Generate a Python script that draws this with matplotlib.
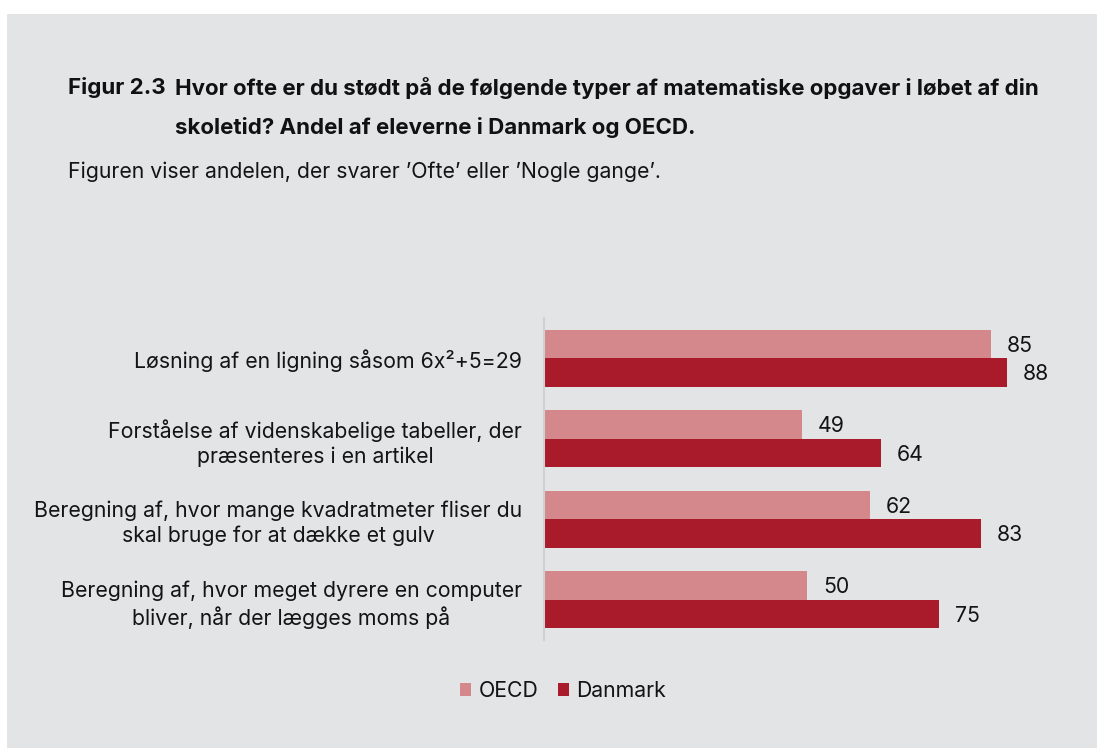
import matplotlib
matplotlib.use("Agg")
import matplotlib.pyplot as plt
from matplotlib.patches import Rectangle, Patch
import numpy as np

categories = [
    "Løsning af en ligning såsom 6x²+5=29",
    "Forståelse af videnskabelige tabeller, der\npræsenteres i en artikel",
    "Beregning af, hvor mange kvadratmeter fliser du\nskal bruge for at dække et gulv",
    "Beregning af, hvor meget dyrere en computer\nbliver, når der lægges moms på",
]
oecd = [85, 49, 62, 50]
danmark = [88, 64, 83, 75]
series_names = ["OECD", "Danmark"]

title_prefix = "Figur 2.3"
title_line1 = "Hvor ofte er du stødt på de følgende typer af matematiske opgaver i løbet af din"
title_line2 = "skoletid? Andel af eleverne i Danmark og OECD."
subtitle = "Figuren viser andelen, der svarer ’Ofte’ eller ’Nogle gange’."

plt.rcParams['font.family'] = ['Inter', 'DejaVu Sans']

W, H = 1097, 748
fig = plt.figure(figsize=(W / 100, H / 100), dpi=100)
fig.patch.set_facecolor("white")
bg = "#e3e4e6"
fig.patches.append(Rectangle((7 / W, 0), 1 - 7 / W, 1 - 14 / H, transform=fig.transFigure,
                             facecolor=bg, edgecolor="none", zorder=-10))

c_oecd = "#d4888b"
c_dk = "#a91b2b"
txt = "#141414"
fs = 15.3

ax_left, ax_right, ax_top, ax_bot = 544, 1070, 318, 640
ax = fig.add_axes([ax_left / W, 1 - ax_bot / H, (ax_right - ax_left) / W, (ax_bot - ax_top) / H])
ax.set_facecolor("none")
ax.set_xlim(0, 100)
n = len(categories)
ax.set_ylim(n - 0.5, -0.5)
y = np.arange(n)
bh = 0.355
ax.barh(y - bh / 2, oecd, height=bh, color=c_oecd, edgecolor="none")
ax.barh(y + bh / 2, danmark, height=bh, color=c_dk, edgecolor="none")
for i in range(n):
    ax.annotate(f"{oecd[i]}", (oecd[i], y[i] - bh / 2 + 0.02), xytext=(16, 0), textcoords="offset pixels",
                va="center", ha="left", fontsize=fs, color=txt)
    ax.annotate(f"{danmark[i]}", (danmark[i], y[i] + bh / 2 + 0.02), xytext=(16, 0), textcoords="offset pixels",
                va="center", ha="left", fontsize=fs, color=txt)

ax.set_yticks(y)
ax.set_yticklabels(categories, fontsize=fs, color=txt, multialignment="center")
for lab in ax.get_yticklabels():
    lab.set_linespacing(1.28)
ax.tick_params(axis="y", length=0, pad=15.8)
ax.set_xticks([])
for s in ["top", "right", "bottom"]:
    ax.spines[s].set_visible(False)
ax.spines["left"].set_color("#cfd0d2")
ax.spines["left"].set_linewidth(1.5)

# titles
tfs = 16.05
fig.text(68 / W, 1 - 88 / H, title_prefix, fontsize=tfs, fontweight="bold", color="#111111", va="center", ha="left")
fig.text(175 / W, 1 - 88 / H, title_line1, fontsize=tfs, fontweight="bold", color="#111111", va="center", ha="left")
fig.text(175 / W, 1 - 128 / H, title_line2, fontsize=tfs, fontweight="bold", color="#111111", va="center", ha="left")
fig.text(68 / W, 1 - 172 / H, subtitle, fontsize=fs, color=txt, va="center", ha="left")

handles = [Patch(facecolor=c_oecd, edgecolor="none"), Patch(facecolor=c_dk, edgecolor="none")]
fig.legend(handles, series_names, loc="center", bbox_to_anchor=(563 / W, 1 - 691 / H), ncol=2,
           frameon=False, fontsize=fs, handlelength=0.52, handleheight=0.52, handletextpad=0.35,
           columnspacing=0.9, labelcolor=txt)

fig.savefig("out.png", dpi=100, facecolor=fig.get_facecolor())
